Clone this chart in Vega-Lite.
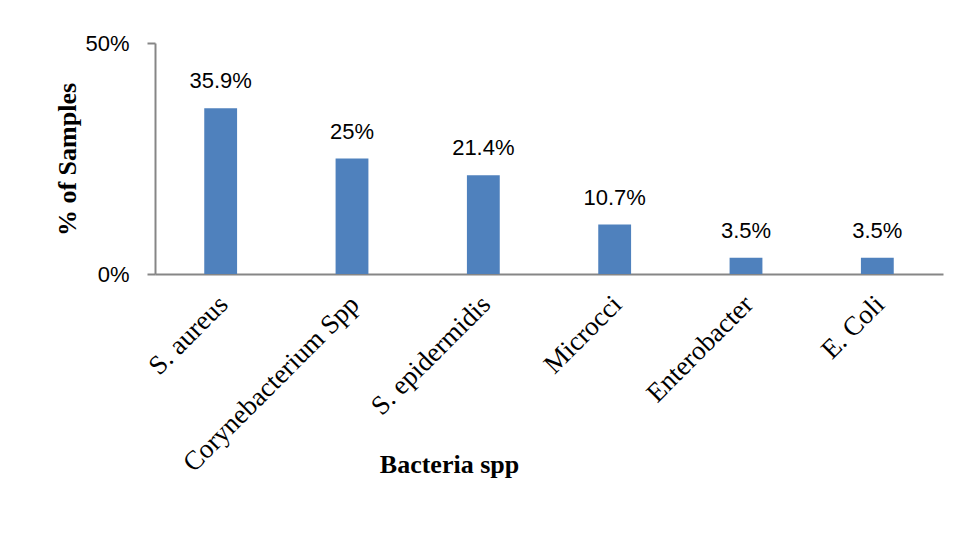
{
  "$schema": "https://vega.github.io/schema/vega-lite/v6.json",
  "autosize": "none",
  "width": 788,
  "height": 231,
  "padding": {"left": 155, "top": 43, "right": 15, "bottom": 270},
  "background": "white",
  "config": {"view": {"stroke": null}},
  "data": {"values": [
    {"bacteria": "S. aureus", "pct": 0.359},
    {"bacteria": "Corynebacterium Spp", "pct": 0.25},
    {"bacteria": "S. epidermidis", "pct": 0.214},
    {"bacteria": "Microcci", "pct": 0.107},
    {"bacteria": "Enterobacter", "pct": 0.035},
    {"bacteria": "E. Coli", "pct": 0.035}
  ]},
  "encoding": {
    "x": {
      "field": "bacteria", "type": "nominal", "sort": null,
      "scale": {"paddingInner": 0.75, "paddingOuter": 0.375},
      "axis": {
        "title": "Bacteria spp",
        "titleFont": "Liberation Serif", "titleFontSize": 26, "titleFontWeight": "bold", "titleColor": "black",
        "titleX": 294, "titleY": 198, "titleAlign": "center", "titleBaseline": "alphabetic", "titleAnchor": null,
        "labelFont": "Liberation Serif", "labelFontSize": 27, "labelColor": "black", "labelLimit": 0,
        "labelAngle": -45, "labelAlign": "right", "labelBaseline": "middle",
        "labelPadding": 26, "labelOffset": 3,
        "ticks": false, "domainColor": "#868686", "domainWidth": 2,
        "grid": false
      }
    },
    "y": {
      "field": "pct", "type": "quantitative",
      "scale": {"domain": [0, 0.5]},
      "axis": {
        "title": "% of Samples",
        "titleFont": "Liberation Serif", "titleFontSize": 26, "titleFontWeight": "bold", "titleColor": "black",
        "titleX": -88, "titleY": 116, "titleAngle": -90, "titleAlign": "center", "titleBaseline": "middle", "titleAnchor": null,
        "values": [0, 0.5], "format": "%",
        "labelFont": "Liberation Sans", "labelFontSize": 22, "labelColor": "black", "labelPadding": 18,
        "tickSize": 8, "tickColor": "#868686", "tickWidth": 2,
        "domainColor": "#868686", "domainWidth": 2,
        "grid": false
      }
    }
  },
  "layer": [
    {"mark": {"type": "bar", "color": "#4F81BD"}},
    {
      "mark": {"type": "text", "font": "Liberation Sans", "fontSize": 22, "color": "black", "baseline": "alphabetic", "dy": -20},
      "encoding": {"text": {"field": "pct", "type": "quantitative", "format": ".1~%"}}
    }
  ]
}
